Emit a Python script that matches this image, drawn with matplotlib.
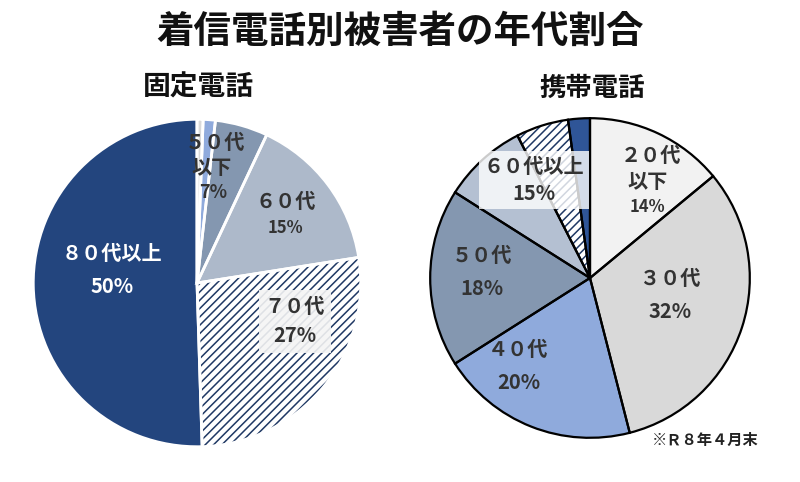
import matplotlib
matplotlib.use("Agg")
import matplotlib.pyplot as plt

plt.rcParams['font.family'] = ['Noto Sans CJK JP', 'DejaVu Sans']
plt.rcParams['hatch.linewidth'] = 1.1

# ---------------------------------------------------
# データ
# ---------------------------------------------------
# 固定電話 (20代〜50代は細い扇形に分けて描く)
kotei_vals = [0.6, 1.2, 5.2, 15.5, 27.0, 50.5]
kotei_colors = ["#d9d9d9", "#8faadc", "#8497b0", "#adb9ca", "white", "#23457e"]
kotei_hatch = [None, None, None, None, "////", None]

# 携帯電話 (60代以上は60代・70代・80代以上に分けて描く)
keitai_vals = [14, 32, 20, 18, 8.5, 5.3, 2.2]
keitai_colors = ["#f2f2f2", "#d9d9d9", "#8faadc", "#8497b0", "#b4c0d2", "white", "#2f5597"]
keitai_hatch = [None, None, None, None, None, "////", None]

W, H = 800, 482
fig = plt.figure(figsize=(W / 100, H / 100), dpi=100)


def make_ax(cx, cy, r):
    ax = fig.add_axes([(cx - r) / W, (H - cy - r) / H, 2 * r / W, 2 * r / H])
    ax.axis("off")
    return ax


def draw_pie(ax, vals, colors, hatches, edge, lw, hatch_col):
    wedges, _ = ax.pie(vals, colors=colors, startangle=90, counterclock=False,
                       radius=1, wedgeprops=dict(linewidth=0, edgecolor=hatch_col))
    for w, h in zip(wedges, hatches):
        if h:
            w.set_hatch(h)
    # 境界線を上から重ねる
    ax.pie(vals, colors=["none"] * len(vals), startangle=90,
           counterclock=False, radius=1,
           wedgeprops=dict(linewidth=lw, edgecolor=edge, fill=False))
    ax.set_xlim(-1.02, 1.02)
    ax.set_ylim(-1.02, 1.02)


def px(cx, cy, r, x, y):
    return ((x - cx) / r, (cy - y) / r)


# ---------------------------------------------------
# 固定電話
# ---------------------------------------------------
lc = (197, 283, 167)
ax1 = make_ax(*lc)
draw_pie(ax1, kotei_vals, kotei_colors, kotei_hatch, "white", 2.0, "#1f3864")

lab = dict(ha="center", va="center", color="#333333", fontweight="bold")
ax1.text(*px(*lc, 215, 140), "５０代", fontsize=14.5, **lab)
ax1.text(*px(*lc, 212, 165), "以下", fontsize=14.5, **lab)
ax1.text(*px(*lc, 214, 191), "7%", fontsize=13, **lab)
ax1.text(*px(*lc, 287, 200), "６０代", fontsize=14.5, **lab)
ax1.text(*px(*lc, 287, 227), "15%", fontsize=12, **lab)
ax1.text(*px(*lc, 297, 322), "７０代\n27%", fontsize=14.5, linespacing=1.5,
         bbox=dict(boxstyle="square,pad=0.3", fc="#f4f4f4", ec="none", alpha=0.9), **lab)
ax1.text(*px(*lc, 110, 270), "８０代以上\n50%", fontsize=14.5, linespacing=1.7,
         ha="center", va="center", color="white", fontweight="bold")

# ---------------------------------------------------
# 携帯電話
# ---------------------------------------------------
rc = (590, 278, 163)
ax2 = make_ax(*rc)
draw_pie(ax2, keitai_vals, keitai_colors, keitai_hatch, "black", 1.6, "#1f3864")

ax2.text(*px(*rc, 652, 153), "２０代", fontsize=14.5, **lab)
ax2.text(*px(*rc, 649, 180), "以下", fontsize=14.5, **lab)
ax2.text(*px(*rc, 649, 206), "14%", fontsize=12, **lab)
ax2.text(*px(*rc, 672, 295), "３０代\n32%", fontsize=14.5, linespacing=1.7, **lab)
ax2.text(*px(*rc, 517, 368), "４０代\n20%", fontsize=14.5, linespacing=1.7, **lab)
ax2.text(*px(*rc, 480, 272), "５０代\n18%", fontsize=14.5, linespacing=1.7, **lab)
ax2.text(*px(*rc, 533, 178), "６０代以上\n15%", fontsize=14.5, linespacing=1.4,
         bbox=dict(boxstyle="square,pad=0.25", fc="white", ec="none", alpha=0.8), **lab)

# ---------------------------------------------------
# タイトル・注記
# ---------------------------------------------------
fig.text(400 / W, 1 - 31 / H, "着信電話別被害者の年代割合", ha="center", va="center",
         fontsize=27, fontweight="bold", color="#111111")
fig.text(198 / W, 1 - 88 / H, "固定電話", ha="center", va="center",
         fontsize=20, fontweight="bold", color="#111111")
fig.text(592 / W, 1 - 88 / H, "携帯電話", ha="center", va="center",
         fontsize=19, fontweight="bold", color="#111111")
fig.text(705 / W, 1 - 440 / H, "※Ｒ８年４月末", ha="center", va="center",
         fontsize=11, fontweight="bold", color="#222222")

fig.savefig("out.png", dpi=100)
